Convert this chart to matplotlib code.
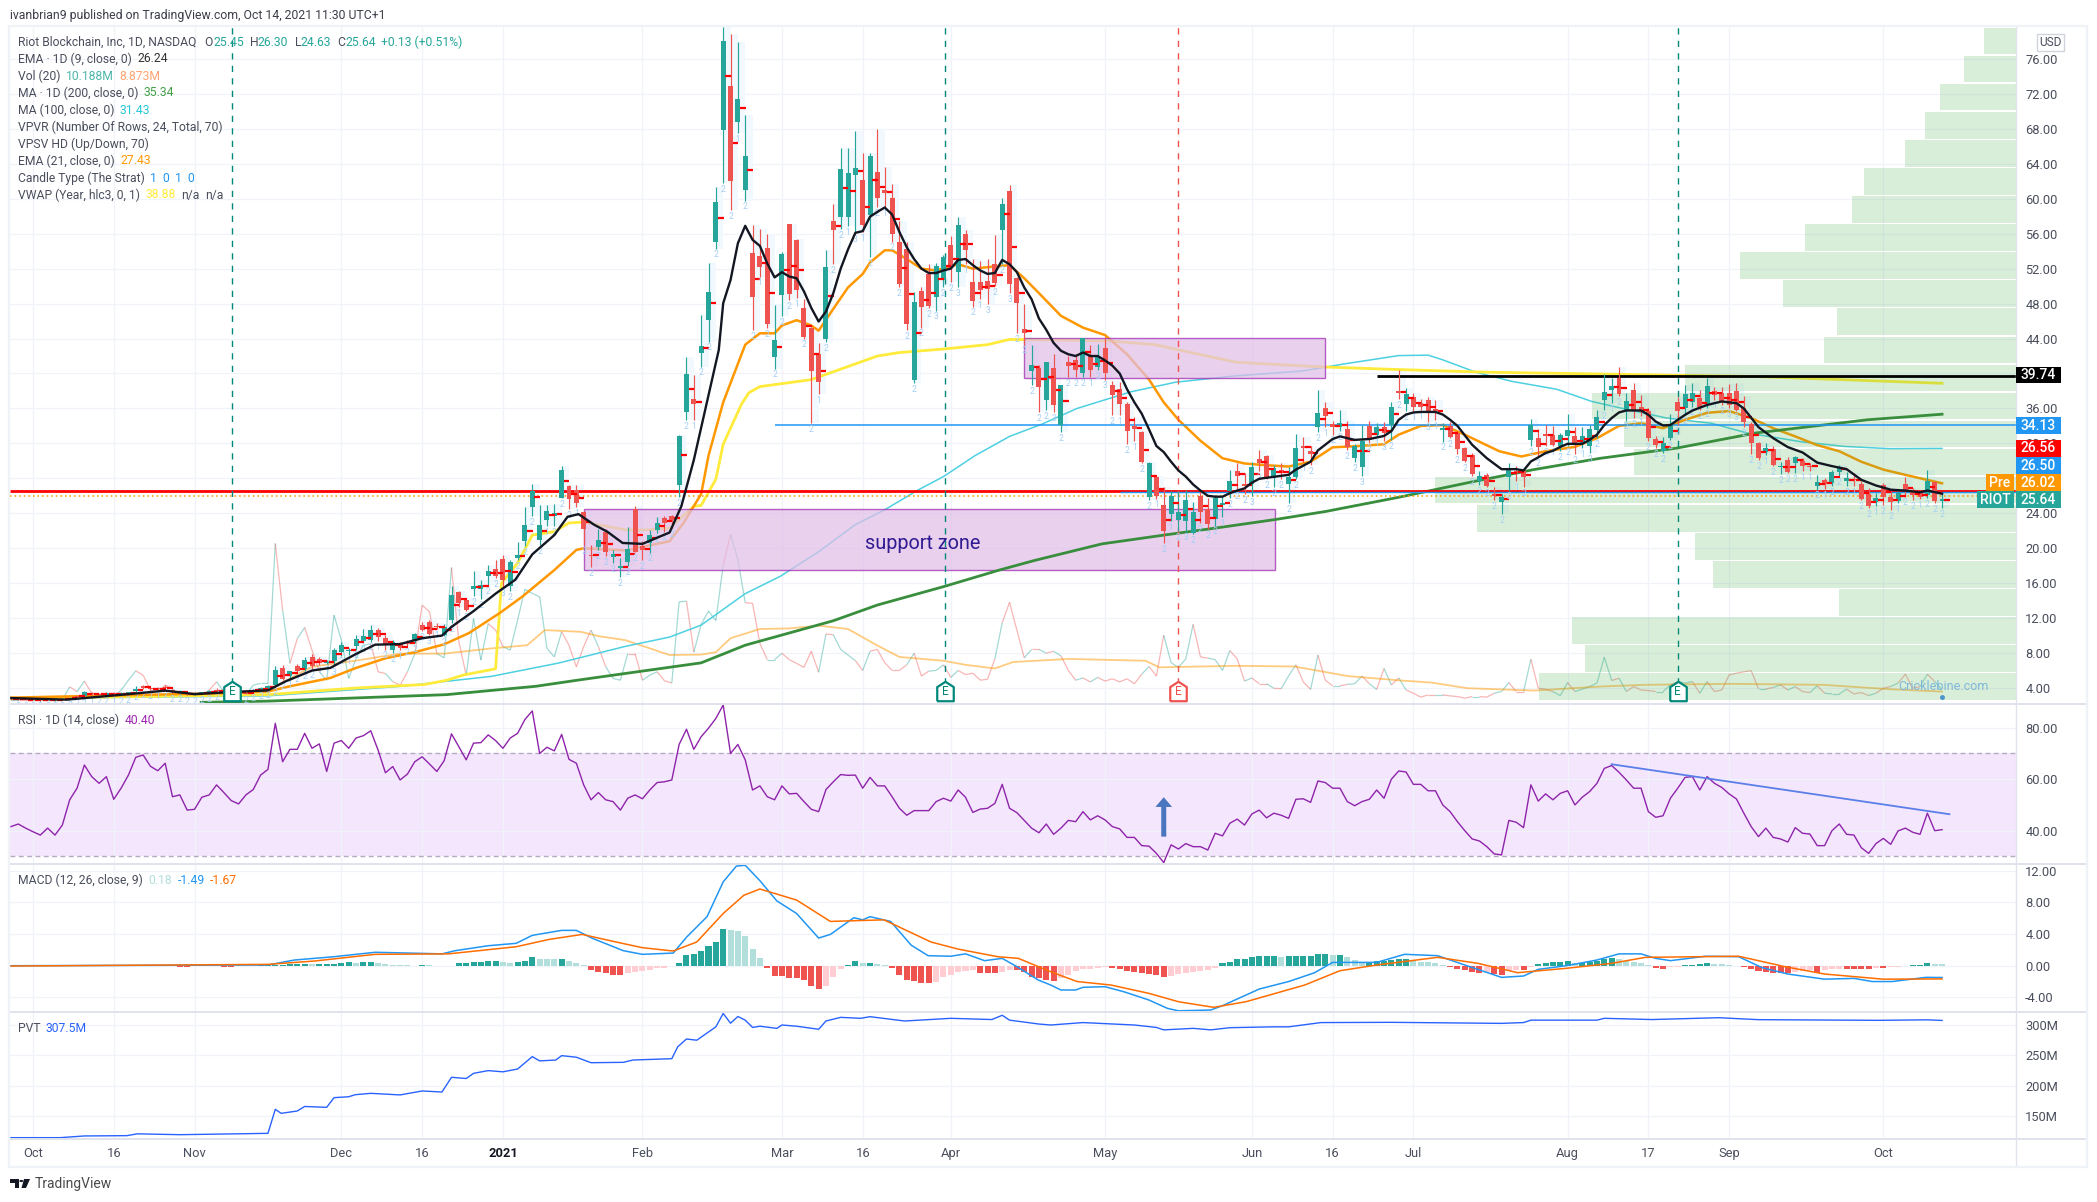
import numpy as np
import matplotlib
matplotlib.use("Agg")
import matplotlib.pyplot as plt
from matplotlib.collections import LineCollection
from matplotlib.lines import Line2D
from matplotlib.patches import Rectangle, Polygon, Circle

plt.rcParams["font.family"] = ["Roboto", "DejaVu Sans"]

W, H = 2097, 1202
TEXT = "#4a4e5c"
UP = "#26a69a"
DOWN = "#ef5350"

# daily bars, first value is bar -3 (bar 0 = 1 Oct 2020)
opens = [
    2.75, 2.70, 2.72, 2.66, 2.62, 2.66, 2.60, 2.64, 2.74, 3.08,
    3.05, 3.42, 3.32, 3.22, 3.38, 3.28, 3.40, 3.70, 4.20, 3.98,
    3.95, 4.10, 3.72, 3.45, 3.42, 3.28, 3.42, 3.55, 3.75, 3.62,
    3.55, 3.50, 3.42, 3.60, 3.78, 3.95, 4.40, 6.29, 5.33, 6.50,
    6.17, 7.55, 7.30, 6.90, 7.05, 8.08, 8.26, 8.77, 9.34, 9.45,
    10.67, 9.76, 8.38, 9.00, 9.30, 9.34, 11.25, 11.60, 11.10, 10.10,
    11.80, 14.95, 14.10, 15.37, 15.37, 16.85, 17.60, 18.80, 15.63, 18.87,
    20.78, 24.67, 20.90, 23.20, 23.64, 25.80, 27.07, 26.70, 24.20, 19.25,
    20.10, 21.85, 18.99, 17.69, 18.40, 24.50, 20.20, 20.60, 22.04, 23.49,
    23.64, 27.26, 35.54, 37.10, 42.40, 46.10, 55.10, 67.87, 72.90, 68.83,
    61.00, 53.80, 53.46, 54.37, 41.88, 49.00, 57.10, 55.30, 47.44, 45.25,
    42.20, 43.90, 57.50, 57.95, 57.95, 62.77, 62.20, 58.17, 63.08, 61.06,
    60.10, 55.00, 54.20, 39.20, 49.40, 51.38, 48.75, 50.72, 54.75, 51.60,
    55.98, 50.50, 50.50, 50.64, 52.50, 56.42, 60.90, 50.90, 45.10, 40.30,
    40.65, 37.00, 40.65, 34.08, 41.30, 41.60, 40.10, 41.96, 40.80, 42.93,
    38.70, 38.24, 36.50, 33.95, 33.30, 25.85, 28.17, 24.97, 23.92, 23.20,
    23.10, 21.80, 26.00, 24.45, 23.35, 25.00, 26.55, 28.80, 27.40, 27.40,
    30.20, 30.50, 28.00, 29.00, 27.30, 28.17, 31.67, 31.10, 33.86, 36.05,
    34.17, 33.86, 33.64, 30.36, 29.35, 34.00, 33.00, 33.86, 34.13, 38.00,
    36.53, 37.30, 36.60, 37.00, 35.90, 33.48, 34.00, 33.20, 31.46, 30.70,
    27.72, 28.40, 26.20, 25.32, 28.10, 28.80, 28.80, 32.40, 32.60, 33.05,
    33.00, 31.65, 32.87, 32.90, 31.95, 31.70, 33.55, 36.99, 38.13, 39.47,
    35.77, 38.13, 36.15, 35.65, 32.53, 31.08, 32.60, 36.70, 36.03, 36.72,
    37.18, 36.60, 37.94, 37.75, 37.82, 37.94, 36.00, 34.24, 32.00, 31.07,
    31.34, 29.24, 30.12, 29.74, 29.93, 29.45, 27.07, 27.83, 27.45, 28.70,
    27.64, 27.88, 27.37, 26.20, 25.28, 27.18, 25.92, 25.43, 27.37, 26.50,
    26.30, 26.10, 27.56, 25.45,
]
highs = [
    2.85, 2.80, 2.80, 2.75, 2.72, 2.75, 2.72, 2.80, 2.95, 3.25,
    3.70, 3.55, 3.45, 3.50, 3.50, 3.50, 3.60, 4.20, 4.40, 4.10,
    4.10, 4.35, 3.85, 3.75, 3.55, 3.50, 3.60, 3.75, 3.95, 3.85,
    3.72, 3.65, 3.55, 3.90, 4.10, 4.40, 6.50, 6.60, 6.00, 6.70,
    7.50, 7.90, 7.60, 7.20, 8.58, 9.30, 8.58, 10.10, 10.70, 11.25,
    10.82, 10.03, 9.55, 9.22, 9.50, 10.30, 11.50, 11.80, 11.40, 11.35,
    15.70, 15.06, 14.30, 17.35, 16.40, 18.10, 18.68, 19.25, 18.68, 20.70,
    24.70, 27.38, 24.98, 24.98, 25.10, 29.36, 27.26, 27.26, 24.30, 20.40,
    22.20, 22.20, 19.82, 18.87, 22.42, 24.80, 20.80, 22.10, 23.60, 23.64,
    23.80, 33.00, 41.87, 39.85, 46.70, 52.70, 61.30, 79.70, 78.86, 77.94,
    69.59, 57.00, 56.55, 56.00, 47.80, 53.95, 57.10, 55.40, 48.50, 45.30,
    43.50, 54.10, 59.40, 65.80, 65.80, 67.70, 65.20, 65.20, 68.00, 63.65,
    61.70, 57.50, 55.10, 49.30, 49.85, 52.50, 52.70, 53.60, 55.76, 57.95,
    56.40, 53.10, 52.90, 53.10, 55.90, 60.14, 61.60, 51.00, 48.00, 43.30,
    41.00, 41.30, 42.20, 38.70, 42.00, 42.20, 44.07, 43.30, 43.37, 44.15,
    39.10, 39.00, 36.70, 35.00, 33.40, 29.90, 28.30, 27.00, 26.60, 26.60,
    26.70, 25.30, 26.60, 25.76, 26.10, 25.85, 28.90, 29.70, 28.60, 29.90,
    31.20, 30.66, 29.50, 29.70, 29.35, 33.10, 32.76, 31.67, 38.10, 36.70,
    34.60, 35.80, 34.60, 31.90, 34.08, 34.60, 34.30, 34.50, 36.70, 40.40,
    38.30, 37.80, 37.06, 37.30, 37.00, 34.30, 34.50, 33.40, 31.57, 30.90,
    28.80, 28.60, 27.00, 26.20, 29.80, 29.36, 29.00, 34.80, 33.60, 34.10,
    34.00, 33.20, 35.40, 33.90, 33.86, 34.10, 35.84, 39.96, 39.50, 40.80,
    37.75, 38.90, 37.56, 36.00, 32.90, 32.70, 35.40, 37.30, 38.70, 38.90,
    38.13, 39.46, 38.50, 38.50, 38.80, 38.90, 37.40, 34.40, 32.20, 32.00,
    31.65, 29.90, 30.40, 30.50, 30.30, 29.74, 28.40, 28.00, 29.00, 29.55,
    28.78, 28.60, 27.64, 26.88, 26.30, 27.45, 26.50, 26.50, 28.10, 26.88,
    26.70, 28.97, 27.64, 26.30,
]
lows = [
    2.65, 2.62, 2.60, 2.58, 2.55, 2.58, 2.55, 2.60, 2.70, 2.95,
    2.95, 3.20, 3.15, 3.15, 3.22, 3.20, 3.30, 3.60, 3.90, 3.75,
    3.78, 3.90, 3.42, 3.35, 3.20, 3.15, 3.30, 3.45, 3.60, 3.50,
    3.42, 3.38, 3.30, 3.50, 3.70, 3.85, 4.20, 4.90, 5.10, 5.70,
    6.00, 6.20, 6.60, 6.70, 6.50, 7.70, 7.80, 8.40, 9.15, 9.30,
    9.35, 8.40, 8.00, 8.38, 8.80, 9.10, 10.50, 10.03, 10.70, 9.90,
    11.40, 13.27, 12.77, 14.50, 14.20, 15.82, 16.58, 15.55, 15.06, 18.68,
    20.20, 23.64, 20.40, 22.50, 22.50, 25.74, 24.48, 24.70, 20.40, 17.80,
    19.80, 19.06, 18.30, 16.70, 17.92, 19.60, 18.60, 19.50, 21.70, 21.90,
    22.30, 25.85, 34.70, 34.70, 40.80, 43.66, 54.30, 61.77, 58.72, 67.49,
    59.79, 45.00, 51.10, 45.20, 40.56, 46.60, 48.40, 48.60, 44.00, 34.30,
    37.60, 43.60, 52.50, 56.55, 56.86, 56.10, 56.20, 53.35, 59.00, 59.00,
    55.10, 49.85, 45.00, 38.90, 45.25, 47.44, 47.20, 49.85, 50.50, 49.85,
    52.50, 47.66, 48.50, 47.90, 50.00, 52.50, 49.20, 44.60, 43.30, 38.70,
    35.60, 35.80, 35.60, 33.30, 39.60, 39.60, 39.60, 39.60, 40.40, 39.30,
    35.20, 35.20, 31.90, 32.30, 29.70, 25.50, 25.67, 20.60, 23.10, 22.00,
    21.90, 21.60, 22.90, 22.17, 22.60, 23.57, 25.76, 26.60, 26.20, 26.00,
    28.80, 27.95, 27.00, 27.95, 25.20, 27.95, 29.90, 29.50, 33.30, 33.86,
    33.00, 33.40, 31.20, 29.90, 28.30, 32.10, 32.76, 32.30, 32.40, 37.10,
    35.65, 35.65, 35.77, 34.50, 34.70, 32.20, 32.60, 30.80, 29.85, 28.30,
    27.26, 27.00, 25.47, 23.90, 26.60, 27.70, 27.00, 31.65, 30.40, 31.65,
    31.70, 31.10, 31.70, 30.80, 31.46, 30.90, 32.60, 35.84, 36.60, 37.45,
    34.60, 34.90, 35.08, 32.30, 31.46, 30.90, 32.40, 34.10, 35.27, 36.20,
    35.84, 36.00, 37.00, 36.40, 36.00, 35.65, 33.86, 30.80, 30.10, 30.70,
    29.36, 28.50, 28.60, 28.60, 28.80, 28.80, 26.70, 26.76, 27.07, 28.20,
    27.07, 27.07, 25.54, 24.60, 24.78, 24.97, 24.32, 25.16, 25.92, 25.54,
    25.60, 25.73, 25.16, 24.63,
]
closes = [
    2.70, 2.75, 2.66, 2.62, 2.68, 2.62, 2.66, 2.76, 2.88, 3.00,
    3.50, 3.30, 3.22, 3.40, 3.28, 3.42, 3.52, 3.90, 4.02, 3.85,
    3.85, 4.00, 3.50, 3.62, 3.30, 3.42, 3.50, 3.62, 3.68, 3.75,
    3.50, 3.58, 3.36, 3.80, 3.95, 4.20, 6.10, 5.03, 5.95, 6.00,
    7.24, 6.55, 6.90, 7.00, 8.38, 8.88, 8.40, 9.60, 9.99, 10.67,
    9.80, 8.88, 9.30, 8.54, 9.05, 10.20, 10.67, 10.20, 10.97, 11.00,
    14.68, 13.72, 12.96, 15.70, 15.82, 17.35, 16.85, 16.40, 18.45, 19.25,
    22.69, 26.60, 22.70, 24.30, 24.02, 28.98, 25.66, 25.20, 22.23, 19.15,
    20.97, 19.60, 19.37, 17.99, 19.94, 19.60, 19.75, 21.50, 22.88, 22.88,
    23.26, 32.90, 39.96, 36.50, 43.20, 49.30, 59.67, 78.10, 62.04, 71.42,
    64.90, 48.80, 52.20, 45.70, 43.85, 53.70, 49.10, 49.57, 44.15, 40.30,
    39.00, 52.20, 56.40, 63.40, 62.90, 63.50, 56.95, 64.87, 60.14, 60.67,
    55.98, 50.20, 45.70, 48.20, 47.66, 47.75, 52.26, 53.35, 52.04, 57.00,
    54.14, 48.30, 49.50, 49.63, 50.37, 59.40, 50.28, 48.10, 44.68, 41.00,
    38.46, 41.30, 36.40, 38.70, 40.87, 40.43, 44.07, 40.43, 41.90, 40.00,
    37.50, 36.50, 33.40, 33.65, 29.90, 29.80, 25.93, 22.00, 25.93, 24.20,
    25.50, 24.10, 24.10, 22.80, 25.76, 25.20, 27.64, 28.30, 27.07, 29.26,
    29.70, 28.17, 29.18, 28.60, 28.17, 31.45, 31.45, 30.80, 35.50, 35.18,
    33.86, 34.30, 31.55, 31.67, 32.33, 32.40, 33.86, 33.20, 36.20, 37.75,
    37.67, 36.20, 36.20, 35.60, 35.65, 33.75, 32.70, 31.38, 30.00, 28.50,
    28.30, 27.15, 26.00, 25.85, 29.00, 28.60, 28.10, 34.10, 31.57, 32.90,
    31.84, 33.00, 33.55, 31.95, 32.80, 33.63, 35.00, 37.86, 38.60, 37.67,
    36.87, 35.84, 35.54, 32.60, 31.84, 32.00, 34.05, 35.65, 37.63, 37.82,
    36.20, 38.60, 37.56, 36.80, 36.40, 35.84, 34.40, 32.10, 30.30, 31.45,
    29.55, 29.36, 28.78, 30.40, 29.36, 29.35, 27.53, 27.30, 28.70, 29.28,
    28.00, 27.80, 25.62, 24.78, 25.73, 25.85, 25.24, 26.30, 26.50, 26.10,
    25.92, 27.70, 25.43, 25.64,
]
# volume in millions, same bars
volume = [
    3, 3, 3, 3, 3, 3, 3, 3, 12.3, 8.8,
    16.4, 7.6, 6.4, 5.7, 5.2, 9.9, 17, 23.7, 20.6, 9.9,
    8.8, 13.5, 11, 5, 7.6, 6.4, 6.4, 9.9, 15.9, 8.8,
    7.6, 5.2, 6.4, 13.5, 14.7, 14.7, 114.7, 67, 29, 46.8,
    54.7, 38.5, 23, 17, 63.5, 45.6, 18.3, 32.5, 42, 43,
    23, 21.8, 16, 13.5, 23, 36, 70.6, 65.9, 36, 33,
    97.5, 44.5, 20.6, 61, 31.4, 57.5, 52.8, 41, 38.5, 60,
    82, 79, 76.6, 39.7, 33.7, 51.6, 42, 26.6, 41, 52.8,
    41, 26.6, 18.3, 17, 36, 36, 17, 20.6, 23, 16.6,
    15, 73, 73.5, 37, 56.9, 66.4, 59.6, 99, 121, 103.3,
    72.4, 71.9, 43.2, 31.7, 31.7, 36.3, 31.7, 29, 26.2, 37.7,
    22.7, 50, 49.5, 39, 35, 30.9, 24, 37.7, 39, 29.5,
    24, 24, 28, 36.3, 20, 23.5, 24, 28, 19, 24,
    21, 22, 17, 17.7, 32.2, 58, 72.7, 52.7, 33, 39,
    39, 36.3, 37.7, 34.4, 24, 17, 18.6, 15.8, 19, 16.4,
    18, 15.8, 18, 14.5, 21.3, 26.8, 20, 49.2, 29.5, 26.2,
    32.2, 56.9, 33.6, 32.8, 31.7, 24, 38.2, 32.2, 16.4, 18.6,
    14.5, 14.5, 11.2, 11, 20, 28, 15.8, 10.4, 35, 17,
    13, 13, 14, 14.5, 20, 14.5, 10.4, 25.4, 13.6, 18.6,
    10, 7.7, 4.9, 6.5, 6.5, 6.5, 5.8, 5.3, 4.2, 5.3,
    5.3, 4.9, 7.7, 8.9, 15.3, 8.9, 8.9, 32, 11.3, 10.6,
    8.9, 6, 15.3, 8.9, 10.6, 12.5, 14.9, 33.4, 16.8, 18.4,
    8.9, 12.5, 10, 9.6, 8.9, 8.9, 13.7, 16, 14.9, 16,
    7.7, 16, 8.9, 10, 20.8, 22, 23, 23.9, 10.8, 10.8,
    11.8, 13.7, 10, 12.5, 8.9, 8.2, 13, 7.7, 7.2, 7.2,
    10.6, 7.2, 8.2, 6, 7.7, 11.3, 12.5, 14.9, 21.3, 11.3,
    12.5, 21.3, 16, 10.188,
]
rsi = [
    41.6, 42.6, 41, 39.6, 38.3, 41, 38.3, 42.2, 52, 56.5,
    65.5, 61, 58.4, 61, 52.2, 56.5, 61.6, 68.5, 69.4, 65,
    63.3, 66.2, 53.2, 53.9, 48, 48.3, 53, 53.9, 57.8, 54.8,
    51.7, 50.4, 53.9, 56, 61.6, 63.8, 81.7, 66.8, 71.6, 71.6,
    77.8, 72, 73.7, 63, 74, 75, 72, 76, 76.9, 78.8,
    71.3, 62.5, 64.9, 59.7, 62, 66.8, 68.7, 65.9, 63, 67.2,
    77.6, 72.6, 67.5, 74, 74.2, 77.2, 75, 72, 76, 77.8,
    83.2, 86.5, 70, 72.4, 71, 77.4, 67.7, 66.2, 57.8, 52,
    54.8, 52, 51.3, 48, 52.6, 53.9, 52.4, 55.8, 58.7, 59,
    59.7, 73.5, 79.4, 71.6, 76.5, 79.8, 83.6, 88.8, 70, 73.5,
    67.5, 55.8, 57.4, 53.2, 52, 57.4, 54.3, 54.5, 51.3, 48.3,
    47.4, 56, 59, 61.8, 61.5, 61.6, 56.5, 60.7, 57.4, 57.4,
    53.2, 48.7, 46, 47.8, 47.8, 47.8, 51.3, 52.6, 51.5, 55.8,
    53, 47.1, 48.4, 48.7, 50.6, 58, 48.7, 47, 44, 41,
    39.2, 42.6, 38.6, 41, 44, 43.5, 47.4, 44.2, 45.8, 44.2,
    41.6, 40.7, 37.4, 37.4, 34.2, 34, 31.2, 27.6, 34.5, 32.9,
    35, 33.8, 33.8, 32.5, 39, 38, 42.9, 44.5, 42.2, 46.5,
    48, 45, 46.8, 46, 44.8, 52.2, 52.4, 51, 59.3, 58.7,
    56.5, 56.5, 51.3, 49.7, 51.3, 52.2, 55.8, 52.6, 60, 63.2,
    62.8, 58, 58, 55.5, 55.5, 50, 47.4, 43.5, 40, 36.8,
    36, 33.8, 31, 30.6, 44, 43.3, 41.2, 57.8, 51.5, 54.3,
    52, 54.5, 55.5, 50, 53, 55.2, 58.4, 64.2, 65.3, 62.7,
    59.7, 56.5, 56.5, 47.4, 45.2, 45.8, 52.6, 56.5, 60.7, 61,
    55.8, 61, 58.4, 56.8, 54.3, 52.3, 46.8, 41.6, 37.7, 41,
    37.4, 36.8, 35.6, 41.2, 39, 38.7, 34.2, 34.2, 40, 42.6,
    38.6, 38.3, 33.4, 31.2, 35, 37, 34.7, 39.9, 41, 39.4,
    38.6, 46.8, 40, 40.4,
]
macd_hist = [
    0, 0, 0, 0, 0, 0, .03, .05, .08, .08, .1, .1,
    .12, .12, .1, .08, .08, .08, .05, .03, 0, -.03, -.08, -.12, -.18,
    -.08, -.05, -.03, -.05, -.1, -.12, -.08, -.05, .02, .03,
    .1, .12, .15, .18, .2, .22, .2, .2, .2, .25, .3, .45, .3, .45, .45, .35,
    .25, .15, .1, .05, .02, .08, .05, -.03, -.06, -.04,
    .35, .35, .45, .5, .55, .55, .5, .4, .45, .6, 1.1, .9, .85, .8, .9, .6, .35, .05,
    -.5, -.75, -.95, -1.2, -1.2, -.95, -.85, -.65, -.5, -.35, -.25, .02, .4, 1.3, 1.5,
    1.9, 2.5, 3, 4.7, 4.5, 4.4, 3.8, 2.1, 1,
    -.35, -1.3, -1.3, -1.6, -1.6, -1.8, -2.6, -2.9, -2.6, -1.4, -.45, .15, .55, .3, .4,
    .2, .05, -.3, -1.2, -1.8, -1.9, -2.15, -2.15, -2, -1.4, -1.2, -.75, -.65, -.5, -.9,
    -.9, -.9, -.75, -.5, -.5, -.8, -1.4, -1.6, -1.8,
    -1.94, -1.6, -1.18, -.63, -.46, -.38, -.25, -.13, -.34, -.46, -.63, -.76, -.97,
    -1.05, -1.18, -1.47, -1.26, -1.05, -.97, -.76, -.63, -.55, -.3, .3, .5, .84, .84,
    1.14, 1.22, 1.22, 1.22, 1.05, 1.22, 1.22, 1.22, 1.22, 1.47, 1.47, 1.35, 1.35, 1.05,
    .7, .5, .5, .6, .6, .7, .8, .88, .63, .5, .42, .3, .04, -.2, -.38, -.55, -.76,
    -.88, -.76, -1.1, -1.18, -.63, -.55, -.55, -.13, .2, .3, .42, .42, .6, .38, .38,
    .42, .63, .8, .93, .8, .63, .5, .38, .04, -.3, -.38, -.2, -.13, .04, .13, .2, .34,
    .2, .17, .08, 0, -.13, -.46, -.63, -.76, -.88, -.97, -.97, -.76, -.67, -.55, -.88,
    -.55, -.46, -.38, -.38, -.38, -.46, -.46, -.3, -.3, -.2, -.13, -.04, .08, .08, .3,
    .2, .18,
]

# smooth lines, read at knots: bar number, value
ema9_x = [-3, 4.6, 13.7, 18, 22, 27, 32, 34.4, 38, 40.5, 44, 46.6, 50, 53, 55.7, 57, 60, 63, 65.7, 68, 71, 72.8, 74.3, 76.4, 78.2, 80.3, 83, 86.7, 88.3, 90, 93.4, 94, 95, 96, 97, 98, 99, 100, 101, 102, 103, 104, 105, 106, 107, 108, 109, 110, 111, 112, 113, 114, 115, 116, 117, 118, 119, 120, 121, 122, 123, 124, 125, 126, 127, 128, 129, 130, 131, 132, 133, 134, 135, 136, 137, 138, 139, 140, 141, 142, 143, 144, 145, 146, 147, 148, 149, 150, 151, 152, 153, 154, 155, 156, 157, 158, 159, 160, 161, 162, 163, 164, 165, 166, 167, 169, 171, 172, 174, 175, 177, 178, 180, 182, 184, 185, 186, 187, 188, 189, 191, 192, 193, 194, 196, 198, 200, 201, 202, 203, 204, 205, 206, 207, 208, 209, 211, 212, 213, 214, 215, 216, 217, 219, 220, 221, 222, 223, 224, 225, 226, 228, 230, 232, 233, 235, 237, 239, 241, 243, 245, 247, 249, 251, 253, 255, 257, 258, 260]
ema9_y = [2.85, 2.67, 3.35, 3.7, 3.3, 3.54, 3.73, 4.76, 6.0, 6.3, 7.9, 8.96, 9.03, 9.7, 10, 11, 12.8, 14.8, 16.4, 19.3, 21.5, 23.6, 23.9, 22.7, 21.9, 20.6, 20.5, 21.8, 24.8, 30.1, 42.7, 48.04, 50.7, 54.9, 56.9, 55.3, 54.6, 52.6, 51, 51.6, 51.1, 50.9, 49.4, 47.5, 45.95, 47.1, 49.2, 52, 54.2, 56.1, 56.3, 57.95, 58.5, 59, 58.2, 56.2, 54.45, 53.1, 52, 51.5, 51.5, 51.8, 52, 53, 53.1, 52.4, 51.8, 51.4, 51.5, 53, 52.5, 51.6, 49.85, 48.5, 46.3, 45, 43.5, 42.6, 42.2, 42, 42.4, 42, 42, 41.5, 40.9, 40, 38.2, 36.7, 35.4, 33.6, 31.7, 31, 29.9, 28.9, 28.2, 27.3, 26.6, 26, 25.9, 25.9, 26.3, 26.6, 26.85, 27.5, 27.95, 28.17, 28.4, 29, 29.9, 31.2, 32.5, 32.8, 32.4, 32.5, 32.85, 33.4, 34.7, 35.3, 35.54, 35.6, 35.6, 35.3, 34.7, 34, 31.84, 30.3, 29.05, 29.05, 29.05, 28.9, 29.93, 30.4, 30.9, 31.15, 31.6, 31.95, 31.95, 32.4, 33, 34.1, 34.9, 35.54, 35.77, 35.77, 35.27, 34.5, 34.05, 34.1, 34.7, 35.27, 35.76, 36.4, 36.8, 36.6, 36, 33.86, 32.6, 31.57, 30.96, 29.8, 29.4, 29.05, 27.83, 27.18, 26.7, 26.6, 26.4, 26.6, 26.24]
ema21_x = [-3, 14, 26, 32, 35, 40.5, 44, 48, 52, 56, 59.4, 63.6, 66.7, 71, 74, 75, 80.7, 86.7, 88.6, 91, 92, 94, 95, 97, 99, 101, 102, 104, 106, 107, 109, 111, 113, 114, 116, 117, 119, 121, 123, 126, 128, 131, 133, 135, 137, 140, 143, 146, 149, 152, 154, 156, 159, 162, 165, 168, 171, 174, 177, 180, 184, 186, 189, 192, 195, 199.7, 202.7, 206, 210, 213, 216, 219, 222, 225, 228, 231, 234, 237, 240, 243, 246, 249, 252, 255, 260]
ema21_y = [2.9, 3.2, 3.4, 3.6, 4.2, 5.15, 6.3, 7.4, 8.1, 9, 10.3, 12.6, 14.5, 17.5, 19.8, 20, 19.75, 20.8, 22.9, 26.2, 30.6, 36.7, 38.9, 43.3, 44.6, 44.6, 45.5, 46.1, 45.5, 44.9, 47.4, 49.85, 51.4, 52.7, 54.1, 54.1, 53.1, 52, 51.8, 52.5, 52, 52.25, 52.4, 50.9, 49.2, 46.6, 45.25, 44.4, 42.2, 39.3, 36.7, 34.7, 32.3, 30.3, 29.7, 29.5, 29.35, 29.9, 31.55, 31.67, 31.9, 33, 34, 34.1, 33, 31.1, 30.5, 31.1, 31.6, 32.6, 34, 34.3, 33.74, 34.7, 35.5, 35.7, 34.9, 33.74, 32.8, 31.8, 31.1, 29.9, 29, 28.4, 27.43]
ma100_x = [-3, 32, 50.2, 62.4, 71.6, 80.7, 86.7, 91, 94, 97, 101.8, 107, 112, 116, 120.4, 124, 128.3, 133, 137.4, 142.2, 149.5, 155.6, 163.4, 173, 178.6, 186, 190, 192, 196.5, 201.4, 207.5, 212.3, 216.5, 222.5, 228.6, 233.4, 240.7, 246.7, 252.8, 260]
ma100_y = [2.8, 3.1, 4.2, 5.33, 6.86, 8.77, 9.83, 11.2, 13, 14.8, 16.8, 19.6, 22.7, 24.4, 26.6, 28.2, 30.6, 32.8, 34.2, 36, 37.9, 39, 39.7, 40.3, 41.1, 42.05, 42.1, 41.56, 40.15, 39.1, 38.2, 36.8, 36, 34.9, 34.3, 33.2, 32.2, 31.65, 31.4, 31.43]
ma200_x = [22.9, 32, 56.3, 68.5, 74.6, 91, 97, 103, 109, 115, 124, 131.6, 136.4, 145.6, 154, 161, 169.3, 176, 186, 196, 204.4, 213.5, 223.8, 234.7, 243.8, 249.8, 260]
ma200_y = [2.36, 2.5, 3.24, 4.2, 4.95, 6.88, 8.9, 10.3, 11.7, 13.5, 15.6, 17.5, 18.6, 20.5, 21.5, 22.3, 23.3, 24.2, 25.83, 27.6, 29, 30.3, 31.45, 33.2, 34.1, 34.7, 35.34]
vwap_x = [-3, 32, 44, 53.3, 56.3, 58.7, 62.4, 63, 63.8, 66, 68, 71, 73, 75, 80.7, 83.7, 86.7, 90, 91, 93, 94, 96.5, 97.5, 99, 106, 112, 115, 118, 124, 130, 133, 142, 147, 152.8, 157.7, 163.8, 170, 176, 186, 198, 216.5, 234.7, 260]
vwap_y = [2.8, 3.24, 4, 4.4, 4.88, 5.5, 6.1, 6.2, 16, 18.3, 21.5, 21.9, 22.9, 23, 22.1, 22.1, 22.3, 24.8, 24.9, 27.9, 31.9, 36.5, 37.8, 38.5, 39.3, 41.1, 42, 42.4, 42.8, 43.3, 43.9, 43.8, 43.7, 43.3, 42.4, 41.3, 41, 40.74, 40.45, 40.15, 39.9, 39.65, 38.88]
volma_x = [-3, 4.6, 26, 32, 38, 44, 50, 56, 62.4, 67.3, 69.7, 74.6, 77, 80.7, 86.7, 91, 93, 95, 99, 103, 107, 111, 115, 118, 124, 127, 131, 133.5, 141, 151.5, 153.4, 163.8, 171.8, 179, 186, 190.5, 195.3, 204.4, 213.5, 219.5, 231.6, 243.8, 252.8, 260]
volma_y = [4, 4, 7.6, 10, 26.6, 31, 36, 36, 39.7, 42, 52.8, 51.6, 48.5, 45.6, 35, 35.3, 37, 47, 53.6, 54, 56, 53.6, 41.8, 33.6, 30.9, 28, 25.4, 30, 32.2, 30.9, 26.2, 27.3, 26.8, 20, 16.9, 15.3, 11.3, 9.6, 12.5, 13.7, 14.4, 13.7, 10.6, 8.873]
macd_x = [-3, 32, 35.6, 41, 46.6, 55.7, 57.5, 62, 65.8, 68, 72, 74, 76.2, 80.4, 83, 87.2, 89, 91.8, 94, 95.8, 97, 99, 101.3, 104, 107, 108.6, 111.8, 113, 114, 116.8, 119.6, 121.9, 125, 127, 129.6, 132, 134, 136.9, 138.6, 140, 142, 143, 146, 148.6, 152, 154.5, 156, 160.4, 162, 167, 171, 174.5, 177, 183, 186.8, 191.3, 195, 200, 203, 205, 208.8, 213, 216, 219, 221, 223, 227.8, 232.3, 235.5, 239, 244, 248, 250.5, 253.2, 257.8, 260]
macd_y = [0, .09, .72, 1.14, 1.7, 1.5, 1.9, 2.53, 2.83, 3.84, 4.47, 4.47, 3.46, 1.9, 1.44, 1.6, 3.6, 6.2, 10.6, 12.6, 12.7, 10.75, 8.2, 6.6, 3.5, 3.96, 6.07, 5.8, 6.2, 5.6, 2.6, 1.27, 1.2, 1.5, .64, .93, -.12, -1.8, -2.44, -3.07, -3.07, -2.73, -2.65, -3.3, -4.34, -5.39, -5.7, -5.6, -5.05, -2.95, -2, -.9, .42, .42, 1.44, 1.27, .09, -1.47, -1.3, -.46, 0, .72, 1.5, 1.5, .93, .64, 1.2, 1.14, -.25, -1.05, -1.7, -1.6, -2, -2, -1.47, -1.49]
signal_x = [-3, 32, 38.4, 46.6, 56.6, 65.8, 70.3, 74.8, 79.4, 83, 87.2, 90.4, 94, 96.8, 99, 104, 108.6, 115.9, 122.3, 126, 131.4, 134.2, 138.6, 142.2, 146.8, 152, 156, 160.8, 165.2, 173.2, 178, 183, 191.3, 196.8, 202.2, 208.8, 215, 219.6, 232.3, 238.6, 244, 252, 260]
signal_y = [-.04, .17, .6, 1.44, 1.5, 2.4, 3.33, 3.96, 3, 2.28, 1.86, 3, 6.6, 8.9, 9.7, 8.3, 5.6, 5.8, 3, 2.1, 1.14, .93, -.76, -2, -2.44, -3.5, -4.55, -5.26, -4.55, -2.44, -.63, .09, 1.06, .3, -.88, -.33, .3, 1.06, 1.2, -.12, -1.05, -1.7, -1.67]
pvt_x = [-3, 3.7, 7, 12.8, 14.2, 20, 32, 33, 33.8, 36, 37, 40, 41, 43, 43.9, 46, 50, 53, 55.7, 57, 59, 60, 62, 64, 66, 68, 69, 71.2, 72, 74, 76, 80.4, 81.7, 87, 87.8, 89, 90.4, 93, 94, 95, 96, 97, 98, 99, 101.3, 102, 104, 107, 108, 110, 112.7, 114, 118.7, 125, 130.6, 132, 133, 137, 138.6, 143, 150, 153, 154, 158, 160.4, 163, 169, 171, 175.4, 185, 200, 203, 204, 213, 214, 220.5, 229.6, 235, 251.3, 258, 260]
pvt_y = [114.7, 114.7, 117.5, 118, 121, 119.6, 121.8, 161.3, 154.7, 158.6, 166, 164.6, 180.5, 182, 185.4, 187.6, 185, 191.5, 189.8, 214, 212, 220.5, 225, 223, 227.6, 248, 241, 242.4, 249.6, 247, 238, 238.6, 242.4, 244.6, 264, 277, 275, 297, 319, 303, 314, 308, 296, 298, 294.5, 300, 298, 293, 306.6, 312.6, 311, 313.7, 306.6, 311, 309, 316, 308, 301.6, 300, 304, 300, 296, 292, 294.5, 292, 295.6, 297, 297, 304, 304.4, 302.7, 304, 308, 308, 311, 309, 312, 308.8, 307.7, 308.5, 307.5]

# volume profile rows, bottom to top
vp_low = 2.547
vp_step = 3.213
vp_volume = [476, 430, 443, 176, 302, 320, 538, 580, 381, 391, 423, 330, 191, 178, 232, 275, 210, 163, 151, 110, 90, 75, 51, 31]

price_ticks = list(range(4, 80, 4))
rsi_ticks = [40, 60, 80]
macd_ticks = [-4, 0, 4, 8, 12]
pvt_ticks = [150, 200, 250, 300]
date_ticks = [0, 11, 22, 42, 53, 64, 83, 102, 113, 125, 146, 166, 177, 188, 209, 220, 231, 252]
date_labels = ["Oct", "16", "Nov", "Dec", "16", "2021", "Feb", "Mar", "16", "Apr", "May", "Jun", "16", "Jul", "Aug", "17", "Sep", "Oct"]
earnings = [(27.1, "#00897b"), (124.2, "#00897b"), (156, "#ef5350"), (224, "#00897b")]

X_LEFT, X_RIGHT = -3.13, 270.0


def fx(x):
    return x / W


def fy(y):
    return 1 - y / H


def makePane(fig, top, bottom, ylim, yticks, fmt):
    ax = fig.add_axes([fx(10), fy(bottom), fx(2015.5) - fx(10), fy(top) - fy(bottom)])
    ax.set_xlim(X_LEFT, X_RIGHT)
    ax.set_ylim(*ylim)
    for s in ax.spines.values():
        s.set_visible(False)
    ax.yaxis.tick_right()
    ax.set_yticks(yticks)
    ax.set_yticklabels([fmt.format(v) for v in yticks])
    ax.set_xticks(date_ticks)
    ax.set_xticklabels([])
    ax.tick_params(length=0, labelsize=9.3, labelcolor=TEXT, pad=7)
    ax.grid(True, color="#f0f3fa", lw=0.9)
    ax.set_axisbelow(True)
    return ax


def textRuns(fig, x, y, runs, size=8.7):
    # writes coloured pieces of one legend line next to each other
    renderer = fig.canvas.get_renderer()
    for txt, col in runs:
        t = fig.text(fx(x), fy(y), txt, color=col, fontsize=size, va="center", ha="left", zorder=8)
        x += t.get_window_extent(renderer).width + 5.5


def axisBox(fig, y, label, color, textcolor="white", left=2015.7, right=2061):
    fig.add_artist(Rectangle((fx(left), fy(y + 8.3)), fx(right) - fx(left), (16.6) / H,
                             transform=fig.transFigure, color=color, lw=0, zorder=6))
    fig.text(fx((left + right) / 2), fy(y), label, color=textcolor, fontsize=10,
             fontweight="medium", ha="center", va="center", zorder=7)


def drawCandles(ax, bars):
    o, h, l, c = np.array(opens), np.array(highs), np.array(lows), np.array(closes)
    cols = [UP if c[i] >= o[i] else DOWN for i in range(len(c))]
    ax.bar(bars + 0.5, h - l, bottom=l, width=1.0, color="#f1f8fe", lw=0, zorder=0.8)
    ax.vlines(bars, l, h, colors=cols, lw=0.85, zorder=3)
    body = np.maximum(np.abs(c - o), 0.06)
    ax.bar(bars, body, bottom=np.minimum(o, c), width=0.68, color=cols, lw=0, zorder=3.1)
    mark = c + 0.4 * (o - c)
    ax.hlines(mark, bars + 0.3, bars + 1.05, colors="#ff0000", lw=1.6, zorder=3.2)
    # candle type digits, the usual inside/outside bar rule
    for i in range(1, len(c)):
        inside = h[i] <= h[i - 1] and l[i] >= l[i - 1]
        outside = h[i] > h[i - 1] and l[i] < l[i - 1]
        digit = "1" if inside else "3" if outside else "2"
        ax.text(bars[i], l[i] - 0.72, digit, color="#a5cff5", fontsize=6.2, ha="center", va="center", zorder=3.3)


def drawMain(fig):
    top = 79.66
    bottom = 2.17
    ax = makePane(fig, 27, 704, (bottom, top), price_ticks, "{:.2f}")
    bars = np.arange(-3, 261)

    # volume sits on the price pane with its own scale
    vol_scale = 1.4 / 8.74
    vol_px = bottom + np.array(volume) * vol_scale
    pts = np.column_stack([bars, vol_px])
    segs = np.stack([pts[:-1], pts[1:]], axis=1)
    seg_cols = [UP if closes[i + 1] >= opens[i + 1] else DOWN for i in range(len(segs))]
    ax.add_collection(LineCollection(segs, colors=seg_cols, linewidths=0.9, alpha=0.42, zorder=1))
    ax.plot(volma_x, bottom + np.array(volma_y) * vol_scale, color="#ff9800", lw=1.3, alpha=0.5, zorder=1.2)

    ax.plot(ma100_x, ma100_y, color="#4dd0e1", lw=1.1, zorder=1.5)
    ax.plot(vwap_x, vwap_y, color="#ffeb3b", lw=2.0, zorder=1.6)
    ax.plot(ema21_x, ema21_y, color="#ff9800", lw=1.8, zorder=1.7)

    ax.add_patch(Rectangle((75, 17.54), 94.2, 24.46 - 17.54, fc="#e1bee7", ec="#9c27b0", lw=1.0, alpha=0.72, zorder=2))
    ax.add_patch(Rectangle((135, 39.47), 41, 44.07 - 39.47, fc="#e1bee7", ec="#9c27b0", lw=1.0, alpha=0.72, zorder=2))

    rows = vp_low + vp_step * np.arange(len(vp_volume))
    lengths = np.array(vp_volume) / 7.341
    ax.barh(rows + vp_step / 2, lengths, height=vp_step * 0.945, left=X_RIGHT - lengths,
            color="#4caf50", alpha=0.21, lw=0, zorder=2.1)

    ax.plot(ma200_x, ma200_y, color="#388e3c", lw=2.0, zorder=2.5)

    ax.hlines(26.56, X_LEFT, X_RIGHT, colors="#ff0000", lw=2.0, zorder=2.6)
    ax.hlines(26.44, 148, X_RIGHT, colors="#2196f3", lw=1.0, zorder=2.65)
    ax.hlines(26.02, X_LEFT, X_RIGHT, colors="#ff9800", lw=1.1, linestyles=(0, (1, 2)), zorder=2.6)
    ax.hlines(34.13, 101, X_RIGHT, colors="#2196f3", lw=1.1, zorder=2.6)
    ax.hlines(39.74, 183, X_RIGHT, colors="#000000", lw=2.0, zorder=2.7)

    drawCandles(ax, bars)
    ax.plot(ema9_x, ema9_y, color="#131722", lw=1.7, zorder=4)

    marker = [(-0.85, -1), (-0.85, 0.45), (0, 1), (0.85, 0.45), (0.85, -1), (-0.85, -1)]
    trans = ax.get_xaxis_transform()
    for xpos, col in earnings:
        ax.axvline(xpos, ymin=0.03, color=col, lw=1.0, dashes=(4.5, 4.5), zorder=2.8)
        ax.plot([xpos], [0.019], transform=trans, marker=marker, ms=14, mfc="white", mec=col, mew=1.6, ls="none", zorder=5, clip_on=False)
        ax.text(xpos, 0.018, "E", transform=trans, color=col, fontsize=8.5, ha="center", va="center", zorder=6)

    ax.text(121.2, 20.5, "support zone", color="#311b92", fontsize=14.3, ha="center", va="center", zorder=6)
    ax.text(254, 4.15, "Cricklebine.com", color="#7fb8d8", fontsize=9, ha="left", va="center", zorder=6, clip_on=False)
    ax.plot([260], [2.92], marker="o", ms=2.5, color="#4a94c9", ls="none", zorder=6)
    return ax


def drawRsi(fig):
    ax = makePane(fig, 704, 864, (27.07, 89.2), rsi_ticks, "{:.2f}")
    ax.axhspan(30, 70, color="#f4e6fd", lw=0, zorder=0.1)
    for lev in (70, 30):
        ax.axhline(lev, color="#b7a9bf", lw=1.0, dashes=(3.5, 2.5), zorder=1)
    ax.plot(np.arange(-3, 261), rsi, color="#8e24aa", lw=1.0, zorder=3)
    ax.plot([215, 261], [65.8, 46.4], color="#5b7fe8", lw=1.3, zorder=4)
    ax.annotate("", xy=(154, 53), xytext=(154, 37.7),
                arrowprops=dict(width=3.6, headwidth=12, headlength=7, shrink=0, color="#4a76c0", lw=0), zorder=4)
    return ax


def drawMacd(fig):
    ax = makePane(fig, 864, 1012, (-5.85, 12.86), macd_ticks, "{:.2f}")
    vals = np.array(macd_hist)
    bars = np.arange(-3, 261)
    cols = []
    for i, v in enumerate(vals):
        prev = vals[i - 1] if i else v
        if v >= 0:
            cols.append("#26a69a" if v >= prev else "#b2dfdb")
        else:
            cols.append("#ef5350" if v <= prev else "#ffcdd2")
    ax.bar(bars, vals, width=0.82, color=cols, lw=0, zorder=2)
    ax.plot(macd_x, macd_y, color="#2196f3", lw=1.1, zorder=3)
    ax.plot(signal_x, signal_y, color="#ff6d00", lw=1.1, zorder=3.1)
    return ax


def drawPvt(fig):
    ax = makePane(fig, 1012, 1139, (112.5, 321.4), pvt_ticks, "{:.0f}M")
    ax.plot(pvt_x, pvt_y, color="#2962ff", lw=1.0, zorder=3)
    ax.set_xticklabels(date_labels)
    ax.tick_params(axis="x", pad=6)
    for lbl, name in zip(ax.get_xticklabels(), date_labels):
        if name == "2021":
            lbl.set_color("#131722")
            lbl.set_fontweight("bold")
    return ax


def drawFrame(fig):
    for y in (704, 864, 1012, 1139):
        fig.add_artist(Line2D([fx(10), fx(2087)], [fy(y), fy(y)], color="#e0e3eb", lw=1.4, zorder=2))
    fig.add_artist(Line2D([fx(2015.7), fx(2015.7)], [fy(27), fy(1166)], color="#e0e3eb", lw=1.0, zorder=2))
    fig.add_artist(Rectangle((fx(9), fy(1167)), fx(2087) - fx(9), (1167 - 26) / H, transform=fig.transFigure,
                             fc="none", ec="#eff2f7", lw=1.6, zorder=2))


def drawLegends(fig):
    fig.text(fx(10), fy(15), "ivanbrian9 published on TradingView.com, Oct 14, 2021 11:30 UTC+1",
             color="#3c3f49", fontsize=8.8, va="center")
    textRuns(fig, 18, 42, [("Riot Blockchain, Inc, 1D, NASDAQ", TEXT)])
    # OHLC pieces sit at fixed places, letter then value
    for xl, letter, xv, value in [(204.5, "O", 213, "25.45"), (250, "H", 257.6, "26.30"),
                                  (294.6, "L", 300.4, "24.63"), (337, "C", 345, "25.64")]:
        textRuns(fig, xl, 42, [(letter, TEXT)])
        textRuns(fig, xv, 42, [(value, UP)])
    textRuns(fig, 381, 42, [("+0.13 (+0.51%)", UP)])
    textRuns(fig, 18, 59, [("EMA · 1D (9, close, 0)", TEXT), ("26.24", "#333333")])
    textRuns(fig, 18, 76, [("Vol (20)", TEXT), ("10.188M", "#4db6ac"), ("8.873M", "#ffa270")])
    textRuns(fig, 18, 93, [("MA · 1D (200, close, 0)", TEXT), ("35.34", "#43a047")])
    textRuns(fig, 18, 110, [("MA (100, close, 0)", TEXT), ("31.43", "#26c6da")])
    textRuns(fig, 18, 127, [("VPVR (Number Of Rows, 24, Total, 70)", TEXT)])
    textRuns(fig, 18, 144, [("VPSV HD (Up/Down, 70)", TEXT)])
    textRuns(fig, 18, 161, [("EMA (21, close, 0)", TEXT), ("27.43", "#ff9800")])
    textRuns(fig, 18, 178, [("Candle Type (The Strat)", TEXT), ("1", "#2196f3"), ("0", "#2196f3"), ("1", "#2196f3"), ("0", "#2196f3")])
    textRuns(fig, 18, 195, [("VWAP (Year, hlc3, 0, 1)", TEXT), ("38.88", "#ffeb3b"), ("n/a", TEXT), ("n/a", TEXT)])
    textRuns(fig, 18, 720, [("RSI · 1D (14, close)", TEXT), ("40.40", "#9c27b0")])
    textRuns(fig, 18, 880, [("MACD (12, 26, close, 9)", TEXT), ("0.18", "#b2dfdb"), ("-1.49", "#2196f3"), ("-1.67", "#ff6d00")])
    textRuns(fig, 18, 1028, [("PVT", TEXT), ("307.5M", "#2962ff")])

    axisBox(fig, 375, "39.74", "#000000")
    axisBox(fig, 425.6, "34.13", "#2196f3")
    axisBox(fig, 448.4, "26.56", "#ff0000")
    axisBox(fig, 465.7, "26.50", "#2196f3")
    axisBox(fig, 482.7, "26.02", "#ff9800")
    axisBox(fig, 499.7, "25.64", "#26a69a")
    axisBox(fig, 482.7, "Pre", "#ff9800", left=1985.5, right=2014)
    axisBox(fig, 499.7, "RIOT", "#26a69a", left=1977, right=2014)

    fig.add_artist(Rectangle((fx(2037), fy(51)), 27 / W, 17 / H, transform=fig.transFigure,
                             fc="white", ec="#d1d4dc", lw=1.0, zorder=6))
    fig.text(fx(2050.5), fy(42.5), "USD", color=TEXT, fontsize=8.6, ha="center", va="center", zorder=7)

    # TradingView mark at the bottom
    logo = [[(10, 1179), (19, 1179), (19, 1188), (15, 1188), (15, 1183), (10, 1183)],
            [(24, 1179), (30, 1179), (26, 1188), (21.5, 1188)]]
    for verts in logo:
        fig.add_artist(Polygon([(fx(a), fy(b)) for a, b in verts], transform=fig.transFigure, color="#131722", lw=0))
    fig.add_artist(Circle((fx(21.3), fy(1181)), 1.9 / W, transform=fig.transFigure, color="#131722", lw=0))
    fig.text(fx(34.5), fy(1184), "TradingView", color="#4a4a4a", fontsize=10, va="center")


def main():
    fig = plt.figure(figsize=(W / 100, H / 100), dpi=100, facecolor="white")
    drawMain(fig)
    drawRsi(fig)
    drawMacd(fig)
    drawPvt(fig)
    drawFrame(fig)
    drawLegends(fig)
    fig.savefig("out.png", dpi=100)


if __name__ == "__main__":
    main()
